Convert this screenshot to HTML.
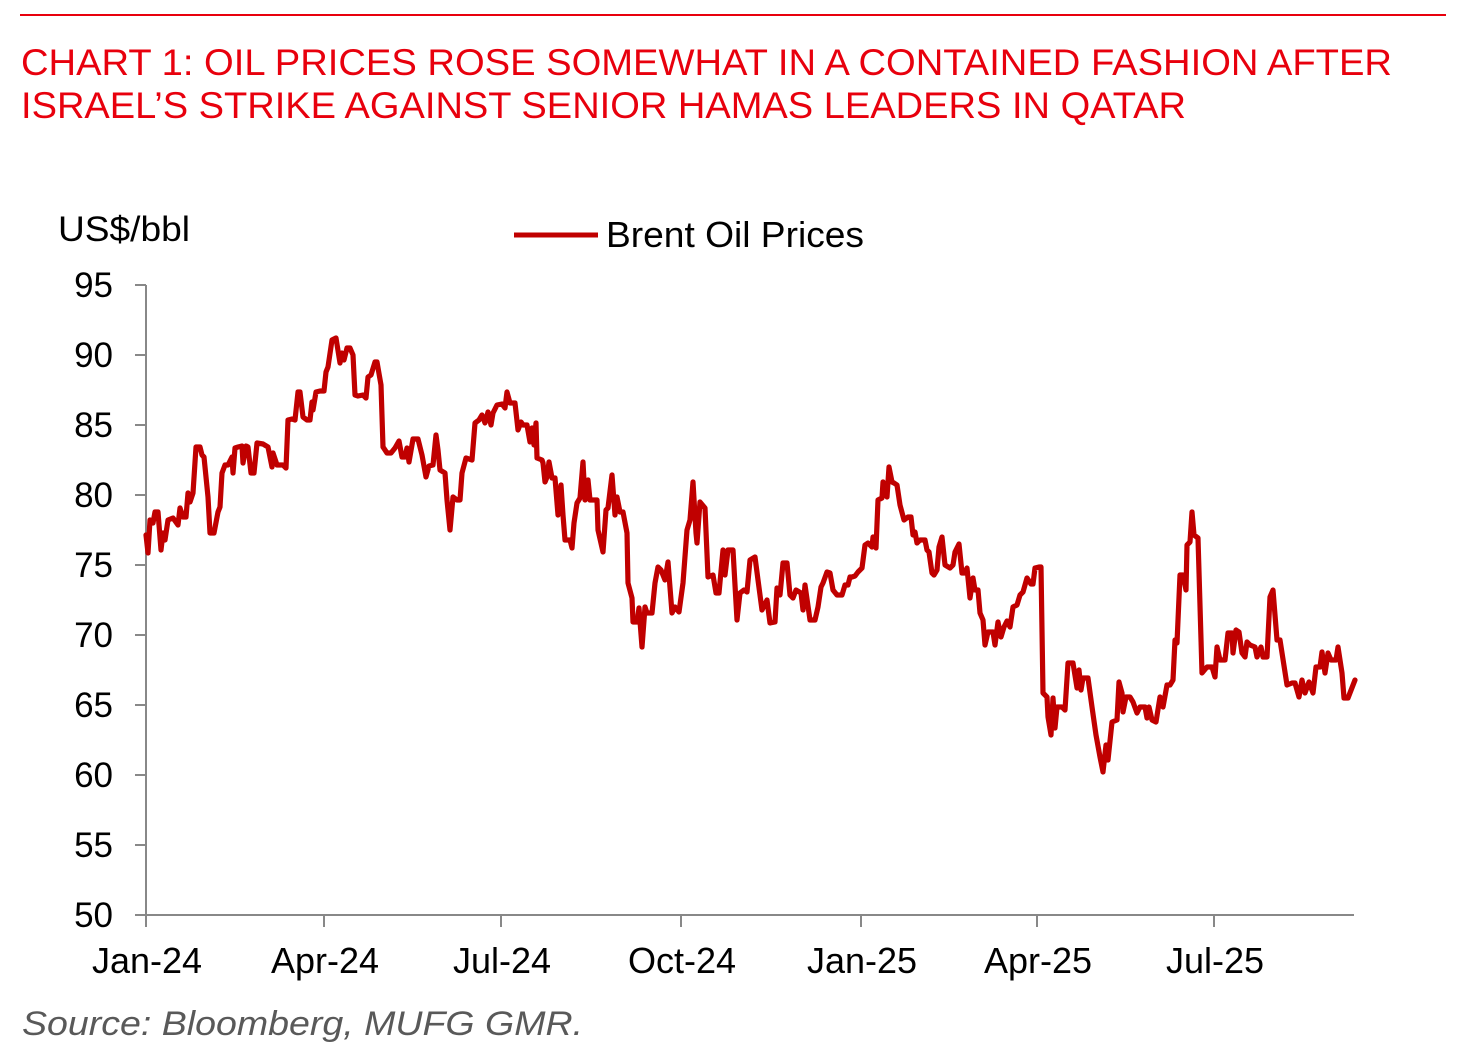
<!DOCTYPE html>
<html>
<head>
<meta charset="utf-8">
<style>
  html, body { margin: 0; padding: 0; background: #ffffff; }
  body { width: 1469px; height: 1064px; overflow: hidden; }
  svg { display: block; }
  text { font-family: "Liberation Sans", Arial, sans-serif; }
</style>
</head>
<body>
<svg width="1469" height="1064" viewBox="0 0 1469 1064" xmlns="http://www.w3.org/2000/svg">
  <rect x="0" y="0" width="1469" height="1064" fill="#ffffff"/>
  <!-- top rule -->
  <line x1="20" y1="15" x2="1446" y2="15" stroke="#E8000D" stroke-width="2"/>
  <!-- title -->
  <text x="21" y="75" font-size="37" fill="#E8000D" textLength="1371" lengthAdjust="spacingAndGlyphs">CHART 1: OIL PRICES ROSE SOMEWHAT IN A CONTAINED FASHION AFTER</text>
  <text x="21" y="118" font-size="37" fill="#E8000D" textLength="1165" lengthAdjust="spacingAndGlyphs">ISRAEL’S STRIKE AGAINST SENIOR HAMAS LEADERS IN QATAR</text>

  <!-- unit label -->
  <text x="58" y="241" font-size="35" fill="#000" textLength="132" lengthAdjust="spacingAndGlyphs">US$/bbl</text>

  <!-- legend -->
  <line x1="514" y1="235" x2="598" y2="235" stroke="#C00000" stroke-width="5"/>
  <text x="606" y="247" font-size="36" fill="#000" textLength="258" lengthAdjust="spacingAndGlyphs">Brent Oil Prices</text>

  <!-- axes -->
  <g stroke="#888888" stroke-width="2" fill="none">
    <line x1="146" y1="285" x2="146" y2="916"/>
    <line x1="145" y1="915" x2="1354" y2="915"/>
    <line x1="135" y1="285" x2="146" y2="285"/>
    <line x1="135" y1="355" x2="146" y2="355"/>
    <line x1="135" y1="425" x2="146" y2="425"/>
    <line x1="135" y1="495" x2="146" y2="495"/>
    <line x1="135" y1="565" x2="146" y2="565"/>
    <line x1="135" y1="635" x2="146" y2="635"/>
    <line x1="135" y1="705" x2="146" y2="705"/>
    <line x1="135" y1="775" x2="146" y2="775"/>
    <line x1="135" y1="845" x2="146" y2="845"/>
    <line x1="135" y1="915" x2="146" y2="915"/>
    <line x1="146" y1="915" x2="146" y2="927"/>
    <line x1="324" y1="915" x2="324" y2="927"/>
    <line x1="501" y1="915" x2="501" y2="927"/>
    <line x1="681" y1="915" x2="681" y2="927"/>
    <line x1="861" y1="915" x2="861" y2="927"/>
    <line x1="1037" y1="915" x2="1037" y2="927"/>
    <line x1="1214" y1="915" x2="1214" y2="927"/>
  </g>

  <!-- y tick labels -->
  <g font-size="35" fill="#000" text-anchor="end">
    <text x="113" y="297">95</text>
    <text x="113" y="367">90</text>
    <text x="113" y="437">85</text>
    <text x="113" y="507">80</text>
    <text x="113" y="577">75</text>
    <text x="113" y="647">70</text>
    <text x="113" y="717">65</text>
    <text x="113" y="787">60</text>
    <text x="113" y="857">55</text>
    <text x="113" y="927">50</text>
  </g>

  <!-- x tick labels -->
  <g font-size="36" fill="#000" text-anchor="middle">
    <text x="147" y="973">Jan-24</text>
    <text x="325" y="973">Apr-24</text>
    <text x="502" y="973">Jul-24</text>
    <text x="682" y="973">Oct-24</text>
    <text x="862" y="973">Jan-25</text>
    <text x="1038" y="973">Apr-25</text>
    <text x="1215" y="973">Jul-25</text>
  </g>

  <!-- series -->
  <polyline fill="none" stroke="#C00000" stroke-width="5.2" stroke-linejoin="round" stroke-linecap="round" points="
146,535 148,553 150,520 153,523 155,512 158,512 161,550 163,533 165,540 168,520 173,518 178,525 180,508 183,517 186,517 188,493 190,502 193,493 196,447 200,447 202,455 204,457 208,497 210,533 214,533 218,512 220,507 222,473 225,465 228,465 232,457 233,473 235,448 238,447 242,446 243,463 246,446 248,447 251,473 254,473 257,443 263,444 268,447 272,467 273,453 277,465 283,465 286,468 288,420 292,419 295,420 298,392 300,392 303,417 307,420 310,420 312,402 313,410 316,392 320,391 324,391 326,372 328,367 332,340 336,338 340,363 342,353 344,360 347,348 350,348 353,355 355,395 358,396 363,395 366,398 368,377 371,375 375,362 377,362 381,385 383,447 387,453 391,453 395,448 399,441
402,457 405,457 407,448 409,462 413,439 418,439 422,455 426,477 429,466 433,465 436,435 438,450 440,470 445,473 447,500 450,530 453,497 457,500 460,500 462,473 466,458 472,460 475,423 479,420 482,415 485,423 488,412 491,425 493,413 497,405 502,404 505,408 507,392 510,403 515,403 518,430 521,422 523,425 527,425 530,442 532,428 534,445 536,423 537,458 542,460 543,463 545,482 547,477 549,462 552,478 555,478 558,515 561,485 563,515 565,540 570,540 572,548 574,523 577,503 580,498 583,462 585,500 588,480 590,500
593,500 597,500 598,530 603,552 606,510 608,508 612,475 615,515 617,497 620,512 623,512 627,533 628,583 632,598 633,622 637,622 639,608 642,647 645,607 647,613 652,613 655,583 658,567 661,570 665,580 668,562 672,613 675,607 679,612 683,583 687,530 690,520 693,482 696,533 697,543 700,502 705,508 708,577 713,575 716,593 719,593 723,550 725,575 728,550 733,550 737,620 740,593 744,590 747,592 750,560 755,557 758,580 762,610 767,600 770,623 775,622 777,588 780,595 783,563 787,563 790,595 793,598 796,590 801,593 803,610 805,585 810,620 815,620 818,607 821,587 823,583 827,572 830,573 833,590 837,595 842,595 845,585 848,585 850,577
852,577 855,576 858,572 862,568 865,545 868,543 872,547 873,537 876,548 878,500 882,498 883,482 887,497 889,467 892,482 894,483 897,485 900,505 904,520 908,517 911,517 913,535 915,532 917,543 920,540 925,540 927,550 929,552 932,573 934,575 937,570 939,547 942,537 945,565 950,568 953,565 955,552 959,544 962,573 965,573 967,568 970,598 973,578 975,590 978,590 980,613 983,620 985,645 988,632 993,632 995,645 998,622 1001,637 1004,627 1007,621 1010,627 1013,607 1017,605 1020,595 1023,592 1027,578 1031,584 1033,584 1035,568 1039,567
1041,567 1043,693 1047,697 1048,717 1051,735 1053,698 1055,728 1057,707 1062,707 1065,710 1068,663 1073,663 1077,688 1079,670 1081,690 1083,678 1088,678 1092,707 1096,735 1100,757 1103,772 1106,745 1108,760 1112,722 1117,720 1119,682 1122,693 1123,712 1126,697 1130,697 1133,702 1137,713 1140,707 1145,707 1147,718 1149,707 1152,720 1156,722 1160,697 1163,707 1167,685 1170,685
1173,680 1175,640 1177,643 1180,575 1183,575 1186,590 1187,545 1190,542 1192,512 1194,535 1198,538 1202,673 1207,667 1212,667 1215,677 1217,647 1220,660 1225,660 1228,633 1232,633 1233,653 1236,630 1239,632 1242,653 1245,657 1247,642 1250,645 1255,647 1257,657 1261,647 1263,657 1267,657 1270,597 1273,590 1277,640 1280,640 1287,685 1292,683 1295,683 1299,697 1302,680 1305,693 1309,682 1313,693 1316,667 1320,667 1322,652 1325,673 1328,653 1331,660 1336,660 1338,647 1342,673 1344,698 1348,698 1355,680"/>

  <!-- source -->
  <text x="22" y="1035" font-size="34" font-style="italic" fill="#595959" textLength="561" lengthAdjust="spacingAndGlyphs">Source: Bloomberg, MUFG GMR.</text>
</svg>
</body>
</html>
